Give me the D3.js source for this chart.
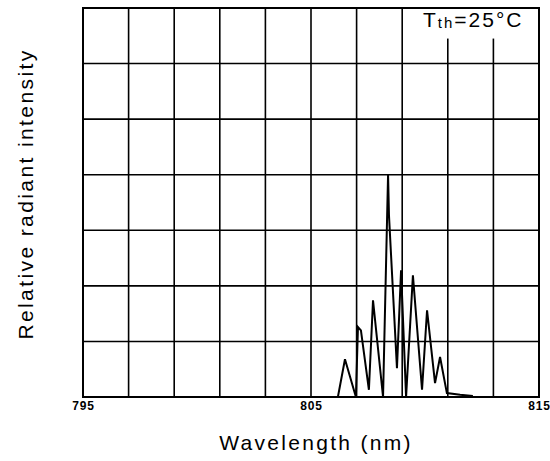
<!DOCTYPE html>
<html>
<head>
<meta charset="utf-8">
<script src="https://cdn.jsdelivr.net/npm/d3@7"></script>
<style>
  html, body { margin: 0; padding: 0; background: #fff; }
  svg { display: block; }
</style>
</head>
<body>
<svg id="chart" width="550" height="461"></svg>
<script>
// ---- data ----
const wavelength = [806.01, 806.18, 806.49, 806.97, 807.06, 807.19, 807.54, 807.72, 808.16, 808.38, 808.42, 808.77, 808.95, 809.17, 809.47, 809.87, 810.09, 810.44, 810.66, 810.96, 811.54, 812.10];
const intensity  = [0.00,   0.00,   0.68,   0.00,   1.26,   1.20,   0.13,   1.74,   0.00,   4.00,   3.27,   0.52,   2.28,   0.00,   2.19,   0.13,   1.56,   0.25,   0.72,   0.07,   0.04,   0.02];
const xDomain = [795, 815];
const yDomain = [0, 7];
const xGridStep = 2;
const xTickLabels = [795, 805, 815];
const annotation = "25°C";

// ---- layout ----
const svg = d3.select("#chart");
const margin = {left: 83, right: 11, top: 8, bottom: 64};
const W = 550, H = 461;
const x = d3.scaleLinear().domain(xDomain).range([margin.left, W - margin.right]);
const y = d3.scaleLinear().domain(yDomain).range([H - margin.bottom, margin.top]);

const xGrid = d3.range(xDomain[0], xDomain[1] + 0.001, xGridStep);

// grid
const g = svg.append("g");
g.selectAll("line.vx").data(xGrid).join("line")
  .attr("x1", d => x(d)).attr("x2", d => x(d))
  .attr("y1", y(yDomain[0])).attr("y2", y(yDomain[1]))
  .attr("stroke", "#000").attr("stroke-width", 1.6);
g.selectAll("line.hy").data(y.ticks(7)).join("line")
  .attr("x1", x(xDomain[0])).attr("x2", x(xDomain[1]))
  .attr("y1", d => y(d)).attr("y2", d => y(d))
  .attr("stroke", "#000").attr("stroke-width", 1.6);

// border
svg.append("rect")
  .attr("x", x(xDomain[0])).attr("y", y(yDomain[1]))
  .attr("width", x(xDomain[1]) - x(xDomain[0]))
  .attr("height", y(yDomain[0]) - y(yDomain[1]))
  .attr("fill", "none").attr("stroke", "#000").attr("stroke-width", 2);

// annotation box (white background covering grid)
const boxX0 = x(809.15), boxY1 = y(6.45);
svg.append("rect")
  .attr("x", boxX0).attr("y", y(yDomain[1]) + 1)
  .attr("width", x(xDomain[1]) - 1 - boxX0)
  .attr("height", boxY1 - y(yDomain[1]) - 1)
  .attr("fill", "#fff");

const ann = svg.append("text")
  .attr("x", 423).attr("y", 27)
  .attr("font-family", "Liberation Sans, Arial, sans-serif")
  .attr("font-size", 21)
  .attr("letter-spacing", 2)
  .attr("fill", "#000");
ann.append("tspan").text("T");
ann.append("tspan").attr("font-size", 15).attr("dy", 1).text("th");
ann.append("tspan").attr("dy", -1).text("=" + annotation);

// spectrum line
const line = d3.line().x((d, i) => x(wavelength[i])).y(d => y(d));
svg.append("path")
  .datum(intensity)
  .attr("d", line)
  .attr("fill", "none")
  .attr("stroke", "#000")
  .attr("stroke-width", 2)
  .attr("stroke-linejoin", "miter");

// x axis tick labels
const xAxis = d3.axisBottom(x).tickValues(xTickLabels).tickSize(0).tickPadding(0);
const ax = svg.append("g").attr("transform", `translate(0,${y(0)})`).call(xAxis);
ax.select(".domain").remove();
ax.selectAll("text")
  .attr("dy", 0).attr("y", 13)
  .attr("font-family", "Liberation Sans, Arial, sans-serif")
  .attr("font-size", 12).attr("font-weight", "bold")
  .attr("letter-spacing", 0.8)
  .attr("fill", "#000");

// axis titles
svg.append("text")
  .attr("x", 316).attr("y", 450)
  .attr("text-anchor", "middle")
  .attr("font-family", "Liberation Sans, Arial, sans-serif")
  .attr("font-size", 21).attr("letter-spacing", 2.3)
  .attr("fill", "#000")
  .text("Wavelength (nm)");

svg.append("text")
  .attr("transform", "translate(33,194) rotate(-90)")
  .attr("text-anchor", "middle")
  .attr("font-family", "Liberation Sans, Arial, sans-serif")
  .attr("font-size", 21).attr("letter-spacing", 2.4)
  .attr("fill", "#000")
  .text("Relative radiant intensity");
</script>
</body>
</html>
